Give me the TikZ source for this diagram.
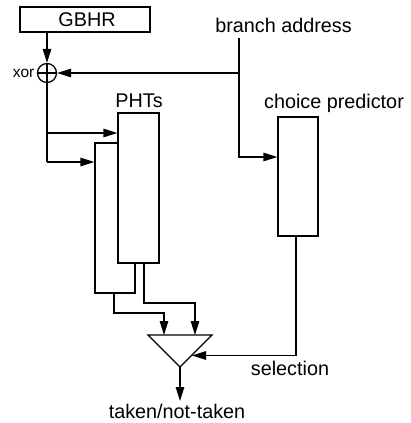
\documentclass[tikz,border=0pt]{standalone}
\usepackage{fontspec}
\setmainfont{Liberation Sans}
\usetikzlibrary{arrows.meta,calc}
\begin{document}
\begin{tikzpicture}[x=1pt,y=-1pt,line width=1.3pt,
  >={Triangle[length=14pt,width=8.5pt]},
  block/.style={draw,fill=white,inner sep=0pt},
  lbl/.style={font=\fontsize{19.8}{22}\selectfont,inner sep=0pt},
  small/.style={font=\fontsize{15.5}{18}\selectfont,inner sep=0pt}]
\useasboundingbox (0,0) rectangle (410,423);

% registers and tables
\node[block,minimum width=130pt,minimum height=25pt] (gbhr) at (85,19.5) {};
\node[lbl] at (87,19.5) {GBHR};
\node[draw,circle,minimum size=19pt,inner sep=0pt] (xor) at (47,73) {};
\draw (xor.north) -- (xor.south) (xor.west) -- (xor.east);
\node[small,anchor=east] (xorlbl) at (35,73) {xor};

\node[block,minimum width=40pt,minimum height=150pt] (pht2) at (115,218) {};
\node[block,minimum width=41pt,minimum height=150pt] (pht1) at (138.5,188) {};
\node[lbl,anchor=base] (phtlbl) at (139,107) {PHTs};

\node[block,minimum width=40pt,minimum height=119pt] (choice) at (298,176.5) {};
\node[lbl,anchor=base] (choicelbl) at (334,108) {choice predictor};
\node[lbl,anchor=base] (balbl) at (283.5,32) {branch address};
\coordinate (ba) at (239,38);

% final selector
\coordinate (mtl) at (148,335);
\coordinate (mtr) at (212,335);
\coordinate (mapex) at (180,367);
\draw (mtl) -- (mtr) -- (mapex) -- cycle;
\coordinate (mside) at (192,355.5);
\coordinate (mout) at (180,401);
\node[lbl,anchor=base] (outlbl) at (177,418) {taken/not-taken};
\node[lbl,anchor=base] (sellbl) at (290,375) {selection};

% connectors
\draw[->] (gbhr.south -| xor) -- (xor.north);
\draw[->] (ba) -- (ba |- xor) -- (xor.east);
\draw[->] (ba |- xor) -- (ba |- 0,157) -- (choice.west |- 0,157);
\draw (xor.south) -- (47,162);
\draw[->] (47,133) -- (pht1.west |- 0,133);
\draw[->] (47,162) -- (pht2.west |- 0,162);
\draw[->] (pht1.south -| 144,0) -- (144,303) -- (195,303) -- (mtl -| 195,0);
\draw[->] (pht2.south -| 114,0) -- (114,313) -- (164,313) -- (mtl -| 164,0);
\draw[->] (choice.south -| 296,0) -- (296,355.5) -- (mside);
\draw[->] (mapex) -- (mout);
\end{tikzpicture}
\end{document}
